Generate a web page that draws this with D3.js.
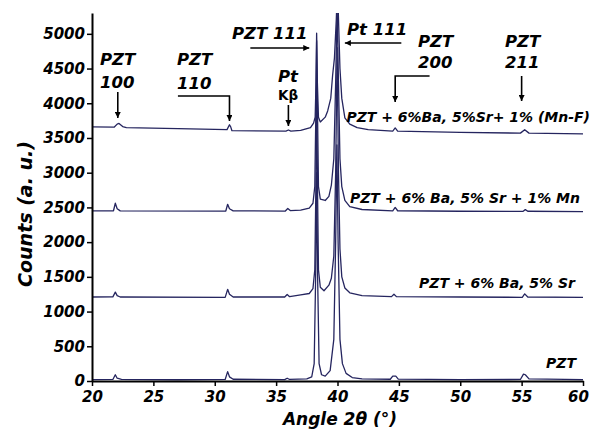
<!DOCTYPE html>
<html>
<head>
<meta charset="utf-8">
<script src="https://d3js.org/d3.v7.min.js"></script>
<style>
  body { margin: 0; background: #fff; }
  text { font-family: "DejaVu Sans", sans-serif; font-weight: bold; font-style: italic; fill: #000; }
</style>
</head>
<body>
<div id="xrd"></div>
<script>
// diffraction patterns, [2theta, counts]
let pzt = [
  [20, 20], [21.7, 22], [21.9, 90], [22.05, 40], [22.4, 22],
  [27, 18], [30.85, 22], [31.05, 135], [31.2, 60], [31.5, 25],
  [35.7, 20], [35.9, 40], [36.1, 22],
  [37.5, 30], [37.9, 60], [38.1, 250], [38.22, 1500], [38.3, 3000], [38.38, 1500], [38.5, 250],
  [38.7, 90], [39.0, 70], [39.4, 150], [39.7, 600], [39.85, 2000], [39.95, 3400], [40.05, 2000],
  [40.2, 600], [40.4, 250], [40.7, 110], [41.2, 50], [42, 30],
  [44.3, 25], [44.5, 70], [44.75, 70], [44.95, 28],
  [50, 20], [54.9, 22], [55.15, 100], [55.3, 90], [55.6, 30], [60, 20]
];

let pztBaSr = [
  [20, 1210], [21.7, 1212], [21.9, 1280], [22.05, 1230], [22.3, 1210],
  [30.85, 1205], [31.05, 1320], [31.2, 1250], [31.5, 1210],
  [35.7, 1210], [35.9, 1245], [36.1, 1215],
  [37.0, 1240], [37.7, 1260], [38.0, 1330], [38.15, 1600], [38.24, 2800], [38.3, 4200], [38.37, 2800],
  [38.45, 1600], [38.6, 1350], [38.9, 1300], [39.3, 1380], [39.5, 1480], [39.7, 1800], [39.85, 3000],
  [39.97, 4800], [40.08, 3000], [40.2, 1900], [40.35, 1500], [40.6, 1340], [41.0, 1270], [42, 1230],
  [44.4, 1215], [44.6, 1250], [44.8, 1215],
  [50, 1210], [55.05, 1205], [55.25, 1255], [55.5, 1210], [60, 1205]
];

let pztMn = [
  [20, 2450], [21.75, 2452], [21.9, 2560], [22.05, 2480], [22.3, 2450],
  [30.9, 2448], [31.05, 2545], [31.2, 2480], [31.5, 2450],
  [35.75, 2448], [35.95, 2485], [36.15, 2455],
  [37.0, 2460], [37.7, 2490], [38.0, 2560], [38.15, 2800], [38.24, 3900], [38.3, 4900], [38.37, 3900],
  [38.45, 2800], [38.6, 2620], [39.0, 2600], [39.3, 2660], [39.5, 2820], [39.7, 3200], [39.85, 4300],
  [39.97, 5400], [40.08, 4300], [40.2, 3200], [40.35, 2800], [40.6, 2600], [41.0, 2510], [42, 2470],
  [44.5, 2450], [44.7, 2500], [44.9, 2452],
  [50, 2445], [55.1, 2442], [55.3, 2468], [55.5, 2445], [60, 2440]
];

let pztMnF = [
  [20, 3660], [21.8, 3655], [22.05, 3700], [22.2, 3710], [22.5, 3665], [22.8, 3650],
  [27, 3635], [31.0, 3620], [31.2, 3690], [31.3, 3660], [31.4, 3605],
  [35.8, 3600], [36.0, 3615], [36.2, 3600],
  [37.0, 3610], [37.8, 3650], [38.05, 3715], [38.18, 3800], [38.25, 4300], [38.3, 5010], [38.36, 4300],
  [38.45, 3800], [38.6, 3730], [39.0, 3800], [39.2, 3890], [39.45, 4070], [39.6, 4400], [39.75, 4650],
  [39.9, 5200], [40.0, 5700], [40.1, 5100], [40.2, 4500], [40.35, 4070], [40.6, 3790], [41.0, 3700],
  [41.6, 3650], [42.5, 3620],
  [44.5, 3600], [44.7, 3645], [44.9, 3600],
  [50, 3580], [54.9, 3570], [55.25, 3620], [55.6, 3570], [60, 3560]
];

let seriesNames = [
  "PZT",
  "PZT + 6% Ba, 5% Sr",
  "PZT + 6% Ba, 5% Sr + 1% Mn",
  "PZT + 6%Ba, 5%Sr+ 1% (Mn-F)"
];
let xTicks = [20, 25, 30, 35, 40, 45, 50, 55, 60];
let yTicks = [0, 500, 1000, 1500, 2000, 2500, 3000, 3500, 4000, 4500, 5000];

let width = 592;
let height = 429;
let lineColor = "#25255f";

let svg = d3
  .select("#xrd")
  .append("svg")
  .attr("width", width)
  .attr("height", height);

let xScale = d3.scaleLinear().domain([20, 60]).range([92, 583]);
let yScale = d3.scaleLinear().domain([0, 5300]).range([381, 13]);

svg
  .append("clipPath")
  .attr("id", "plotClip")
  .append("rect")
  .attr("x", 80)
  .attr("y", 13)
  .attr("width", 512)
  .attr("height", 380);

// traces
let line = d3
  .line()
  .x(function(d) { return xScale(d[0]); })
  .y(function(d) { return yScale(d[1]); });

let traces = [pzt, pztBaSr, pztMn, pztMnF];

svg
  .append("g")
  .attr("clip-path", "url(#plotClip)")
  .selectAll("path")
  .data(traces)
  .enter()
  .append("path")
  .attr("d", line)
  .attr("fill", "none")
  .attr("stroke", lineColor)
  .attr("stroke-width", 1.3)
  .attr("stroke-linejoin", "round");

// trace labels, right aligned
let labelPos = [
  { x: 576, y: 368 },
  { x: 575, y: 288 },
  { x: 580, y: 203 },
  { x: 590, y: 122 }
];
svg
  .selectAll(".traceLabel")
  .data(seriesNames)
  .enter()
  .append("text")
  .attr("class", "traceLabel")
  .attr("x", function(d, i) { return labelPos[i].x; })
  .attr("y", function(d, i) { return labelPos[i].y; })
  .attr("text-anchor", "end")
  .attr("font-size", 14)
  .text(function(d) { return d; });

// axes
let xAxis = d3.axisBottom(xScale).tickValues(xTicks).tickFormat(d3.format("d"))
  .tickSize(5).tickSizeOuter(0).tickPadding(5);
let yAxis = d3.axisLeft(yScale).tickValues(yTicks).tickFormat(d3.format("d"))
  .tickSize(5).tickSizeOuter(0).tickPadding(2);

let gx = svg
  .append("g")
  .attr("class", "xAxis")
  .attr("transform", "translate(0,381)")
  .call(xAxis);

let gy = svg
  .append("g")
  .attr("class", "yAxis")
  .attr("transform", "translate(92,0)")
  .call(yAxis);

[gx, gy].forEach(function(g) {
  g.select(".domain").attr("stroke", "#000").attr("stroke-width", 2);
  g.selectAll(".tick line").attr("stroke", "#000").attr("stroke-width", 1.5);
  g.selectAll(".tick text")
    .attr("font-family", "DejaVu Sans")
    .attr("font-size", 15)
    .attr("fill", "#000");
});

// last x label sits a little inside the edge
gx.selectAll(".tick text")
  .filter(function(d) { return d === 60; })
  .attr("dx", -5);

svg
  .append("text")
  .attr("transform", "translate(32,214)rotate(-90)")
  .attr("text-anchor", "middle")
  .attr("font-size", 19)
  .text("Counts (a. u.)");

svg
  .append("text")
  .attr("x", 340)
  .attr("y", 425)
  .attr("text-anchor", "middle")
  .attr("font-size", 17)
  .text("Angle 2θ (°)");

// peak annotations
svg
  .append("defs")
  .append("marker")
  .attr("id", "head")
  .attr("viewBox", "0 0 10 10")
  .attr("refX", 10)
  .attr("refY", 5)
  .attr("markerWidth", 6)
  .attr("markerHeight", 6)
  .attr("markerUnits", "userSpaceOnUse")
  .attr("orient", "auto")
  .append("path")
  .attr("d", "M0,0L10,5L0,10z")
  .attr("fill", "#000");

let peakNotes = [
  { lines: ["PZT", "100"], tx: 100, ty: [65, 88], pts: [[22.1, 92], [22.1, 118]] },
  { lines: ["PZT", "110"], tx: 177, ty: [65, 89], pts: [[27.0, 96], [31.2, 96], [31.2, 121]] },
  { lines: ["PZT 111"], tx: 232, ty: [39], pts: [[32.9, 48], [37.7, 48]] },
  { lines: ["Pt 111"], tx: 347, ty: [35], pts: [[45.2, 43], [40.6, 43]] },
  { lines: ["PZT", "200"], tx: 418, ty: [47, 68], pts: [[47.5, 76], [44.7, 76], [44.7, 102]] },
  { lines: ["PZT", "211"], tx: 505, ty: [47, 68], pts: [[55.0, 76], [55.0, 101]] },
  { lines: ["Pt"], tx: 278, ty: [82], pts: [[36.0, 105], [36.0, 126]] }
];

let notes = svg.selectAll(".note").data(peakNotes).enter().append("g").attr("class", "note");

notes.each(function(d) {
  let g = d3.select(this);
  d.lines.forEach(function(t, i) {
    g.append("text")
      .attr("x", d.tx)
      .attr("y", d.ty[i])
      .attr("font-size", 16.5)
      .text(t);
  });
  g.append("path")
    .attr("d", d3.line()(d.pts.map(function(p) { return [xScale(p[0]), p[1]]; })))
    .attr("fill", "none")
    .attr("stroke", "#000")
    .attr("stroke-width", 1.6)
    .attr("marker-end", "url(#head)");
});

svg
  .append("text")
  .attr("x", 278)
  .attr("y", 100)
  .attr("font-size", 13.5)
  .style("font-style", "normal")
  .text("Kβ");
</script>
</body>
</html>
